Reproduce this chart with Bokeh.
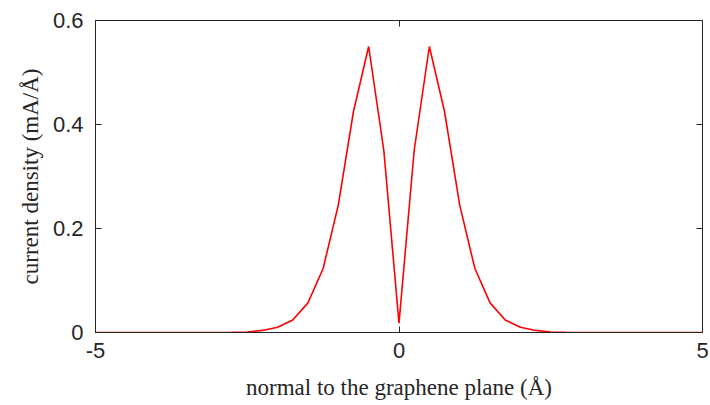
from bokeh.plotting import figure
from bokeh.models import LinearAxis, FixedTicker, Range1d
from bokeh.embed import file_html
from bokeh.resources import INLINE

# Data
z = [-5.0, -4.75, -4.5, -4.25, -4.0, -3.75, -3.5, -3.25, -3.0, -2.75, -2.5, -2.25,
     -2.0, -1.75, -1.5, -1.25, -1.0, -0.75, -0.5, -0.25, 0.0,
     0.25, 0.5, 0.75, 1.0, 1.25, 1.5, 1.75, 2.0, 2.25, 2.5, 2.75, 3.0,
     3.25, 3.5, 3.75, 4.0, 4.25, 4.5, 4.75, 5.0]
current = [0.0, 0.0, 0.0, 0.0, 0.0, 0.0, 0.0, 0.0, 0.0001, 0.0003, 0.001, 0.004,
           0.010, 0.024, 0.057, 0.123, 0.245, 0.425, 0.550, 0.350, 0.018,
           0.350, 0.550, 0.425, 0.245, 0.123, 0.057, 0.024, 0.010, 0.004, 0.001, 0.0003, 0.0001,
           0.0, 0.0, 0.0, 0.0, 0.0, 0.0, 0.0, 0.0]
x_ticks = [-5, 0, 5]
x_tick_labels = {-5: "-5", 0: "0", 5: "5"}
y_ticks = [0, 0.2, 0.4, 0.6]
y_tick_labels = {0: "0", 0.2: "0.2", 0.4: "0.4", 0.6: "0.6"}

AX = "#262626"

p = figure(width=710, height=405, output_backend="svg", toolbar_location=None,
           x_range=Range1d(-5, 5), y_range=Range1d(0, 0.6),
           min_border_left=95, min_border_right=8, min_border_top=20, min_border_bottom=73)
p.outline_line_color = None
p.grid.visible = False
p.background_fill_color = "white"
p.border_fill_color = "white"

p.line(z, current, line_color="#ff0000", line_width=1.6)

def style(ax, show_labels):
    ax.axis_line_color = AX
    ax.axis_line_width = 1
    ax.major_tick_line_color = AX
    ax.major_tick_in = 6
    ax.major_tick_out = 0
    ax.minor_tick_line_color = None
    if show_labels:
        ax.major_label_text_font = "Liberation Sans"
        ax.major_label_text_font_size = "22px"
        ax.major_label_text_color = "#262626"
    else:
        ax.major_label_text_font_size = "0px"
        ax.major_label_text_color = None
        ax.major_label_standoff = 0

xa = p.xaxis[0]
ya = p.yaxis[0]
xa.ticker = FixedTicker(ticks=x_ticks)
ya.ticker = FixedTicker(ticks=y_ticks)
xa.major_label_overrides = x_tick_labels
ya.major_label_overrides = y_tick_labels
style(xa, True)
style(ya, True)
xa.major_label_standoff = 10
ya.major_label_standoff = 12
xa.axis_label = "normal to the graphene plane (Å)"
ya.axis_label = "current density (mA/Å)"
for a in (xa, ya):
    a.axis_label_text_font = "Liberation Serif"
    a.axis_label_text_font_size = "23px"
    a.axis_label_text_font_style = "normal"
    a.axis_label_text_color = "#262626"
xa.axis_label_standoff = 14
ya.axis_label_standoff = 7

top = LinearAxis(ticker=FixedTicker(ticks=x_ticks))
right = LinearAxis(ticker=FixedTicker(ticks=y_ticks))
style(top, False)
style(right, False)
p.add_layout(top, "above")
p.add_layout(right, "right")

open("out.html", "w").write(file_html(p, INLINE))
